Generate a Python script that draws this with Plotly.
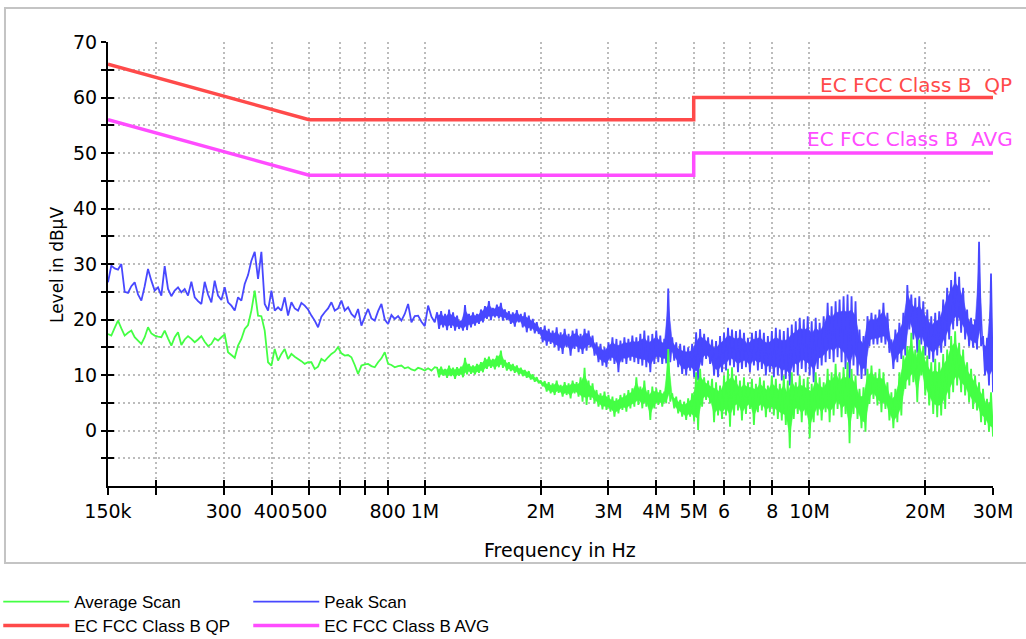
import numpy as np
import plotly.graph_objects as go

# ---------------- data ----------------
F_START, F_SPLIT, F_DENSE_START, F_STOP = 150e3, 1.061e6, 1.076e6, 30e6

# Peak / Average scan, 150 kHz .. ~1.06 MHz (individual points)
PEAK_LEFT = [
    26.7, 29.7, 29.2, 29.0, 30.0, 25.0, 24.8, 26.0, 26.7, 24.5,
    23.4, 26.0, 29.1, 27.0, 25.2, 25.8, 24.3, 29.6, 25.5, 24.2,
    25.2, 25.8, 24.9, 25.5, 24.3, 26.8, 24.0, 23.3, 22.8, 26.8,
    24.5, 23.1, 27.0, 24.3, 23.5, 25.8, 23.1, 22.5, 21.6, 24.0,
    23.4, 26.4, 28.0, 30.6, 32.2, 27.3, 32.2, 22.8, 21.6, 25.2,
    21.6, 22.2, 21.6, 24.0, 20.7, 23.1, 22.0, 21.6, 23.0, 22.5,
    21.8, 20.7, 19.8, 18.6, 20.5, 21.3, 22.0, 23.1, 21.6, 22.0,
    23.4, 21.6, 22.2, 21.0, 20.4, 21.9, 18.9, 20.5, 21.9, 20.2,
    19.8, 21.5, 22.8, 20.0, 19.2, 20.8, 20.1, 20.6, 19.8, 21.0,
    22.8, 19.5, 20.6, 20.7, 19.6, 18.8, 22.5, 20.5, 19.5]
AVG_LEFT = [
    17.4, 17.1, 18.5, 19.8, 18.4, 17.1, 17.6, 18.0, 16.8, 16.2,
    15.6, 16.8, 18.6, 17.5, 17.1, 16.9, 16.8, 18.0, 16.6, 15.3,
    16.8, 17.7, 15.4, 16.4, 17.0, 16.5, 15.9, 16.4, 17.0, 16.0,
    15.2, 15.6, 16.6, 16.2, 16.8, 17.3, 14.1, 13.6, 13.1, 15.3,
    16.5, 18.3, 19.0, 21.6, 25.2, 20.7, 20.6, 18.0, 12.3, 11.7,
    14.7, 12.6, 13.8, 14.7, 12.9, 13.8, 13.3, 12.9, 12.5, 12.0,
    12.3, 12.3, 11.1, 11.5, 12.9, 12.5, 13.2, 13.8, 14.2, 15.0,
    13.9, 13.5, 13.6, 13.2, 11.8, 10.2, 11.7, 11.9, 12.0, 11.6,
    11.4, 12.3, 13.0, 14.1, 12.0, 11.8, 11.4, 11.6, 11.7, 11.2,
    11.4, 11.0, 10.8, 11.3, 11.1, 10.8, 11.2, 10.8, 11.4]

# Dense part ~1.08 MHz .. 30 MHz: successive local maxima / minima of the scans
PEAK_HI = [
    21.3, 21.5, 21.0, 21.8, 21.3, 20.7, 19.8, 22.6, 21.0, 21.3,
    21.0, 21.8, 22.4, 23.3, 22.1, 22.7, 23.0, 21.8, 21.5, 21.3,
    21.7, 21.0, 21.3, 20.7, 20.1, 19.5, 18.6, 18.9, 18.3, 18.0,
    18.6, 17.7, 18.3, 17.4, 18.0, 18.3, 17.4, 18.3, 18.0, 17.1,
    15.9, 15.6, 15.0, 15.9, 16.8, 16.5, 16.2, 16.8, 16.5, 17.1,
    16.8, 17.4, 18.0, 17.1, 17.4, 18.0, 17.1, 16.5, 25.6, 16.8,
    15.9, 15.6, 15.3, 15.0, 15.6, 17.7, 18.3, 17.4, 16.8,
    16.4, 16.1, 17.0, 17.6, 18.5, 18.2, 17.9, 18.2, 17.6, 16.7,
    17.6, 17.9, 18.2, 17.6, 17.0, 17.9, 18.5, 18.2, 17.9, 18.5,
    19.1, 19.7, 20.3, 20.0, 20.6, 19.7, 20.3, 19.4, 20.6, 23.0,
    22.4, 23.3, 23.6, 24.2, 24.5, 24.2, 23.3, 18.2, 17.0, 20.6,
    21.2, 20.9, 21.8, 23.0, 21.2, 16.4, 18.2, 19.4, 21.2, 26.2,
    24.5, 23.9, 24.2, 23.3, 21.8, 20.6, 21.2, 21.5, 23.6, 25.7,
    27.1, 28.6, 27.7, 25.7, 21.8, 20.3, 20.0, 34.0, 17.0, 16.7, 28.3]
PEAK_LO = [
    18.3, 18.6, 18.1, 18.5, 18.0, 18.3, 18.0, 18.1, 18.6, 18.9,
    19.2, 19.5, 20.1, 19.9, 20.4, 20.2, 19.8, 19.9, 19.2, 18.7,
    19.5, 18.6, 17.7, 18.0, 17.5, 17.4, 15.9, 15.3, 15.6, 15.0,
    14.4, 13.8, 15.0, 13.5, 14.7, 14.1, 13.8, 14.4, 15.0, 13.5,
    12.3, 11.7, 11.4, 12.6, 12.0, 10.5, 12.3, 12.0, 12.6, 12.3,
    12.0, 11.7, 11.4, 10.5, 12.0, 12.3, 12.0, 12.1, 12.3, 12.6,
    11.4, 10.2, 9.9, 10.8, 9.6, 9.0, 11.7, 12.9, 12.0,
    9.9, 9.6, 10.5, 10.8, 11.7, 11.4, 10.5, 11.1, 11.4, 10.5,
    11.7, 10.8, 11.1, 9.9, 10.5, 9.6, 9.9, 9.0, 9.3, 8.1,
    10.5, 9.9, 11.1, 10.5, 9.9, 8.7, 11.1, 11.7, 12.3, 12.9,
    12.3, 13.2, 12.3, 11.1, 8.7, 11.7, 9.9, 9.3, 9.9, 15.2,
    15.5, 15.5, 15.8, 15.5, 14.0, 11.1, 12.3, 12.9, 13.5, 18.2,
    16.4, 14.0, 15.5, 13.5, 12.9, 12.3, 13.5, 14.0, 15.2, 16.4,
    18.2, 18.8, 17.6, 16.4, 15.2, 14.9, 14.6, 15.2, 9.9, 8.1, 6.9]
AVG_HI = [
    11.3, 11.5, 11.1, 11.7, 11.3, 11.4, 11.5, 13.1, 12.0, 11.7,
    12.0, 12.3, 13.1, 13.3, 12.9, 13.5, 14.4, 12.7, 12.3, 12.0,
    11.7, 11.3, 10.9, 10.7, 10.1, 9.6, 9.0, 8.9, 8.7, 8.5,
    9.0, 8.2, 8.7, 8.5, 9.0, 8.7, 9.6, 11.3, 9.0, 8.5,
    7.3, 6.7, 7.0, 6.4, 6.1, 5.8, 6.4, 6.7, 7.3, 7.6,
    9.6, 7.9, 9.0, 7.3, 7.9, 7.6, 7.3, 7.0, 14.7, 6.7,
    6.1, 5.5, 5.2, 5.8, 6.7, 10.5, 11.1, 9.6, 9.0,
    9.3, 8.7, 8.1, 9.9, 11.1, 11.4, 9.9, 9.0, 9.6, 8.7,
    9.3, 8.4, 9.6, 9.0, 8.1, 9.9, 9.3, 8.4, 9.9, 9.0,
    10.5, 8.7, 9.9, 9.3, 9.6, 8.4, 10.5, 9.6, 8.7, 11.1,
    10.5, 12.0, 10.5, 11.4, 12.3, 11.1, 9.9, 7.5, 7.8, 11.1,
    11.7, 10.5, 11.1, 10.5, 8.7, 6.9, 7.5, 10.5, 13.5, 15.2,
    17.6, 14.6, 16.4, 15.2, 13.5, 12.3, 12.9, 12.3, 13.8, 14.6,
    17.0, 17.9, 15.8, 14.6, 12.3, 11.1, 9.9, 8.7, 7.5, 5.7, 6.9]
AVG_LO = [
    9.6, 9.9, 9.5, 9.8, 9.3, 9.9, 9.6, 10.1, 10.2, 10.1,
    10.4, 10.5, 11.1, 11.3, 11.0, 11.4, 11.3, 10.8, 10.7, 10.4,
    10.1, 9.8, 9.5, 9.2, 8.8, 8.5, 8.0, 7.0, 6.7, 6.4,
    6.8, 6.1, 6.4, 5.8, 6.7, 6.1, 5.2, 4.6, 5.5, 4.9,
    4.3, 3.8, 3.7, 3.4, 2.5, 3.1, 3.7, 3.4, 4.0, 4.3,
    4.6, 4.0, 4.3, 1.9, 4.0, 4.6, 4.3, 4.9, 5.2, 4.0,
    3.1, 2.5, 1.9, 2.5, 1.6, 0.1, 4.3, 5.5, 4.9,
    1.5, 2.7, 2.1, 2.7, 0.7, 2.7, 3.6, 1.8, 3.0, 3.9,
    1.0, 3.3, 3.6, 2.4, 3.3, 2.7, 2.1, 1.8, 1.0, -3.2,
    2.1, 3.0, 1.5, 2.7, -1.4, 1.5, 2.7, 1.8, 3.3, 1.5,
    2.7, 3.9, 2.4, 3.0, -2.3, 3.0, 2.1, 0.4, -0.2, 4.8,
    5.7, 4.5, 3.3, 3.9, 1.8, 0.4, 1.5, 2.7, 7.5, 8.1,
    8.7, 5.1, 9.9, 6.3, 4.5, 3.0, 2.4, 2.7, 3.9, 5.7,
    6.9, 8.1, 6.9, 6.3, 5.1, 3.9, 3.6, 1.5, 1.0, -0.2, -1.1]

# Limit lines
LIMIT_F = [150e3, 500e3, 5e6, 5e6, 30e6]
QP_LIMIT = [66, 56, 56, 60, 60]
AVG_LIMIT = [56, 46, 46, 50, 50]

XTICK_VALS = [150e3, 200e3, 300e3, 400e3, 500e3, 600e3, 700e3, 800e3, 1e6,
              2e6, 3e6, 4e6, 5e6, 6e6, 7e6, 8e6, 10e6, 20e6, 30e6]
XTICK_TEXT = ["150k", "", "300", "400", "500", "", "", "800", "1M",
              "2M", "3M", "4M", "5M", "6", "", "8", "10M", "20M", "30M"]
YTICK_VALS = [0, 10, 20, 30, 40, 50, 60, 70]
YMINOR_VALS = [-5, 5, 15, 25, 35, 45, 55, 65]
Y_RANGE = [-10, 70]

# ---------------- build series ----------------
def interleave(hi, lo):
    out = []
    for h, l in zip(hi, lo):
        out += [h, l]
    return out

f_left = np.geomspace(F_START, F_SPLIT, len(PEAK_LEFT))
f_dense = np.geomspace(F_DENSE_START, F_STOP, 2 * len(PEAK_HI))
freq = np.concatenate([f_left, f_dense])
peak = PEAK_LEFT + interleave(PEAK_HI, PEAK_LO)
avg = AVG_LEFT + interleave(AVG_HI, AVG_LO)

# envelope core of the dense part, slightly inside the extremes so edges stay ragged
f_hi, f_lo = f_dense[0::2], f_dense[1::2]
band_x = np.concatenate([f_hi, f_lo[::-1]])

def core(hi, lo):
    top = [h - 0.2 * (h - l) for h, l in zip(hi, lo)]
    bot = [l + 0.2 * (h - l) for h, l in zip(hi, lo)]
    return top + bot[::-1]

GREEN, BLUE, RED, MAGENTA = "#44ff44", "#4848ff", "#ff4a4a", "#ff4cff"
GRID = "#bcbcbc"
XR = [np.log10(F_START), np.log10(F_STOP)]

fig = go.Figure()
fig.add_trace(go.Scatter(x=band_x, y=core(PEAK_HI, PEAK_LO), mode="lines", fill="toself",
                         fillcolor=BLUE, line=dict(color=BLUE, width=0.5),
                         showlegend=False, hoverinfo="skip"))
fig.add_trace(go.Scatter(x=freq, y=peak, mode="lines", name="Peak Scan",
                         line=dict(color=BLUE, width=1.8, simplify=False),
                         legend="legend", legendrank=2))
fig.add_trace(go.Scatter(x=band_x, y=core(AVG_HI, AVG_LO), mode="lines", fill="toself",
                         fillcolor=GREEN, line=dict(color=GREEN, width=0.5),
                         showlegend=False, hoverinfo="skip"))
fig.add_trace(go.Scatter(x=freq, y=avg, mode="lines", name="Average Scan",
                         line=dict(color=GREEN, width=1.8, simplify=False),
                         legend="legend", legendrank=1))
fig.add_trace(go.Scatter(x=LIMIT_F, y=QP_LIMIT, mode="lines", name="EC FCC Class B QP",
                         line=dict(color=RED, width=3.5), legend="legend2", legendrank=1))
fig.add_trace(go.Scatter(x=LIMIT_F, y=AVG_LIMIT, mode="lines", name="EC FCC Class B AVG",
                         line=dict(color=MAGENTA, width=3.5), legend="legend2", legendrank=2))
# invisible trace that carries the overlay axes used for inner tick marks
fig.add_trace(go.Scatter(x=LIMIT_F, y=QP_LIMIT, xaxis="x2", yaxis="y2", mode="lines",
                         opacity=0, showlegend=False, hoverinfo="skip"))

tickfont = dict(family="DejaVu Sans", size=19, color="black")
grid_common = dict(showgrid=True, gridcolor=GRID, gridwidth=1.5, griddash="2px,3px")

legend_common = dict(orientation="h", xanchor="left", yanchor="middle", x=-0.124,
                     font=dict(family="Liberation Sans", size=17, color="black"),
                     entrywidth=169, entrywidthmode="pixels", itemwidth=66,
                     bgcolor="rgba(0,0,0,0)", traceorder="normal")

fig.update_layout(
    width=1026, height=639,
    margin=dict(l=108, r=33, t=42, b=153, autoexpand=False),
    paper_bgcolor="white", plot_bgcolor="white",
    font=dict(family="DejaVu Sans", size=19, color="black"),
    xaxis=dict(type="log", range=XR, tickmode="array", tickvals=XTICK_VALS,
               ticktext=XTICK_TEXT, tickangle=0, ticks="outside", ticklen=7, tickwidth=2,
               tickcolor="black", showline=True, linecolor="black", linewidth=2,
               zeroline=False, tickfont=tickfont, **grid_common),
    yaxis=dict(range=Y_RANGE, tickmode="array", tickvals=YTICK_VALS, ticks="outside",
               ticklen=5, tickwidth=2, tickcolor="black", showline=True,
               linecolor="black", linewidth=2, zeroline=False, tickfont=tickfont,
               minor=dict(tickmode="array", tickvals=YMINOR_VALS, ticks="outside",
                          ticklen=5, tickwidth=2, tickcolor="black", **grid_common),
               **grid_common),
    xaxis2=dict(type="log", range=XR, overlaying="x", anchor="y", tickmode="array",
                tickvals=XTICK_VALS, ticks="inside", ticklen=6, tickwidth=2,
                tickcolor="black", showticklabels=False, showgrid=False,
                showline=False, zeroline=False),
    yaxis2=dict(range=Y_RANGE, overlaying="y", anchor="x", side="left", tickmode="array",
                tickvals=YTICK_VALS, ticks="inside", ticklen=6, tickwidth=2,
                tickcolor="black", showticklabels=False, showgrid=False,
                showline=False, zeroline=False,
                minor=dict(tickmode="array", tickvals=YMINOR_VALS, ticks="inside",
                           ticklen=6, tickwidth=2, tickcolor="black")),
    legend=dict(y=-0.2613, **legend_common),
    legend2=dict(y=-0.3153, **legend_common),
    showlegend=True,
    shapes=[dict(type="rect", xref="paper", yref="paper", x0=-0.1164, x1=1.05,
                 y0=-0.1734, y1=1.0766, line=dict(color="#c4c4c4", width=2),
                 layer="below")],
    annotations=[
        dict(text="EC FCC Class B\u00a0 QP", xref="paper", yref="y", x=1.0237, y=62.3,
             xanchor="right", yanchor="middle", showarrow=False,
             font=dict(family="DejaVu Sans", size=20, color=RED)),
        dict(text="EC FCC Class B\u00a0 AVG", xref="paper", yref="y", x=1.0249, y=52.5,
             xanchor="right", yanchor="middle", showarrow=False,
             font=dict(family="DejaVu Sans", size=20, color=MAGENTA)),
        dict(text="Frequency in Hz", xref="paper", yref="paper", x=0.5107, y=-0.144,
             xanchor="center", yanchor="middle", showarrow=False,
             font=dict(family="DejaVu Sans", size=19, color="black")),
        dict(text="Level in dBµV", xref="paper", yref="paper", x=-0.0576, y=0.4977,
             xanchor="center", yanchor="middle", textangle=-90, showarrow=False,
             font=dict(family="DejaVu Sans", size=17, color="black")),
    ],
)

fig.write_html("out.html")
